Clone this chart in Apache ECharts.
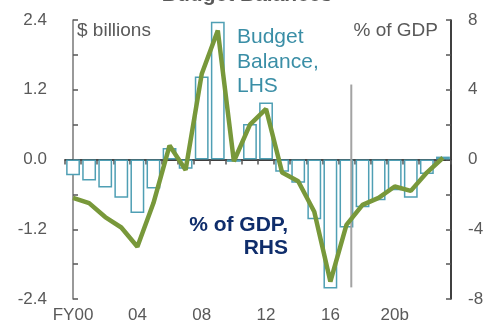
<!DOCTYPE html>
<html>
<head>
<meta charset="utf-8">
<script src="https://cdn.jsdelivr.net/npm/echarts@6/dist/echarts.min.js"></script>
<style>html,body{margin:0;padding:0;background:#fff;}#c{width:483px;height:320px;}</style>
</head>
<body>
<div id="c"></div>
<script>
const categories = ['FY00','01','02','03','04','05','06','07','08','09','10','11','12','13','14','15','16','17','18','19','20b','21','22','23'];
const balanceBn = [-0.27,-0.36,-0.48,-0.66,-0.92,-0.50,0.20,-0.16,1.43,2.37,-0.04,0.61,0.98,-0.21,-0.40,-1.03,-2.22,-1.17,-0.82,-0.70,-0.53,-0.66,-0.25,0.05];
const balancePctGdp = [-2.2,-2.5,-3.3,-3.9,-5.0,-2.5,0.8,-0.6,4.9,7.4,-0.1,2.0,2.9,-0.75,-1.25,-3.0,-7.0,-3.75,-2.6,-2.2,-1.55,-1.8,-0.75,0.1];
const leftTicks = [-2.4, 2.4, 0.6];
const rightTicks = [-8, 8, 2];
const forecastX = [17.3, 17.3];
const forecastY = [1.29, -2.2];

const FONT = 'Liberation Sans, Arial, sans-serif';
const GREY = '#595959';
const chart = echarts.init(document.getElementById('c'));
chart.setOption({
  animation: false,
  textStyle: { fontFamily: FONT },
  grid: { left: 65, right: 32, top: 20, bottom: 21, containLabel: false, outerBoundsMode: 'none' },
  xAxis: [
    { type: 'category', data: categories, boundaryGap: true,
      axisLine: { onZero: true, lineStyle: { color: '#000', width: 1.5 } },
      axisTick: { show: true, interval: 0, length: 5, lineStyle: { color: '#555', width: 1.5 } },
      axisLabel: { show: false }, splitLine: { show: false } },
    { type: 'category', data: categories, position: 'bottom', boundaryGap: true,
      axisLine: { show: false, onZero: false }, axisTick: { show: false },
      axisLabel: { show: true, interval: 3, margin: 8, fontSize: 17, color: GREY, fontFamily: FONT } },
    { type: 'value', min: -0.5, max: 23.5, show: false }
  ],
  yAxis: [
    { type: 'value', min: leftTicks[0], max: leftTicks[1], interval: leftTicks[2], position: 'left',
      axisLine: { show: true, lineStyle: { color: '#777', width: 1.5 } },
      axisTick: { show: true, inside: true, length: 5, lineStyle: { color: '#555', width: 1.5 } },
      splitLine: { show: false },
      axisLabel: { margin: 18, fontSize: 17, color: GREY, fontFamily: FONT,
        formatter: v => (Math.abs(Math.round(v / 0.6)) % 2 === 0) ? v.toFixed(1) : '' } },
    { type: 'value', min: rightTicks[0], max: rightTicks[1], interval: rightTicks[2], position: 'right',
      axisLine: { show: true, lineStyle: { color: '#000', width: 1.5 } },
      axisTick: { show: true, inside: true, length: 5, lineStyle: { color: '#555', width: 1.5 } },
      splitLine: { show: false },
      axisLabel: { margin: 17, fontSize: 17, color: GREY, fontFamily: FONT,
        formatter: v => (Math.abs(Math.round(v / 2)) % 2 === 0) ? String(v) : '' } }
  ],
  series: [
    { type: 'bar', data: balanceBn, xAxisIndex: 0, yAxisIndex: 0, barCategoryGap: '14%', z: 2,
      itemStyle: { color: '#ffffff', borderColor: '#4f9fb4', borderWidth: 1.5 } },
    { type: 'line', data: forecastX.map((x, i) => [x, forecastY[i]]), xAxisIndex: 2, yAxisIndex: 0,
      symbol: 'none', z: 3, lineStyle: { color: '#a3a3a3', width: 2 } },
    { type: 'line', data: balancePctGdp, xAxisIndex: 0, yAxisIndex: 1, symbol: 'none', z: 4,
      lineStyle: { color: '#78983a', width: 4.5 } }
  ],
  graphic: [
    { type: 'text', x: 247, y: -5, style: { text: 'Budget Balances', font: 'bold 21px ' + FONT, fill: GREY, align: 'center', verticalAlign: 'middle' } },
    { type: 'text', x: 77, y: 31, style: { text: '$ billions', font: '19px ' + FONT, fill: GREY, align: 'left', verticalAlign: 'middle' } },
    { type: 'text', x: 438, y: 31, style: { text: '% of GDP', font: '19px ' + FONT, fill: GREY, align: 'right', verticalAlign: 'middle' } },
    { type: 'text', x: 237, y: 25, style: { text: 'Budget\nBalance,\nLHS', font: '21px ' + FONT, lineHeight: 24.5, fill: '#3a8ea6', align: 'left', verticalAlign: 'top' } },
    { type: 'text', x: 288, y: 213, style: { text: '% of GDP,\nRHS', font: 'bold 21px ' + FONT, lineHeight: 23.5, fill: '#0f2d6b', align: 'right', verticalAlign: 'top' } }
  ]
});
</script>
</body>
</html>
